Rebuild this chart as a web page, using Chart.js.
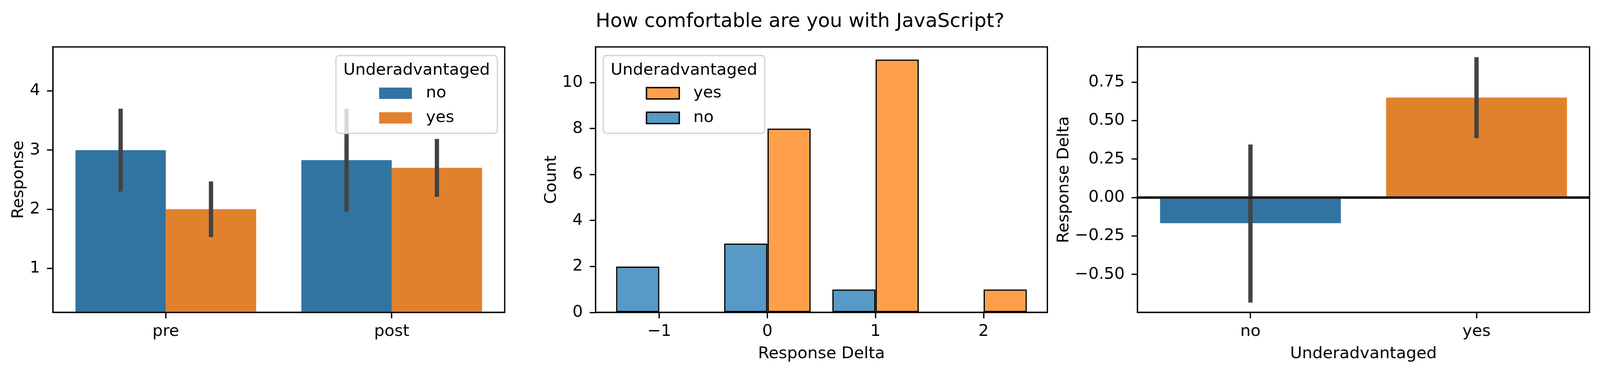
<!DOCTYPE html>
<html>
<head>
<meta charset="utf-8">
<title>How comfortable are you with JavaScript?</title>
<script src="https://cdn.jsdelivr.net/npm/chart.js@4.4.1/dist/chart.umd.min.js"></script>
<style>
  html, body { margin: 0; padding: 0; background: #fff; overflow: hidden; }
  #fig { width: 4359px; height: 959px; position: relative; }
  .panel { position: absolute; top: 0; height: 959px; }
  #suptitle {
    position: absolute; left: 0; top: 27px; width: 100%;
    text-align: center; font: 50px/50px "DejaVu Sans"; color: #000;
  }
</style>
</head>
<body>
<div id="fig">
<div id="suptitle">How comfortable are you with JavaScript?</div>
<div class="panel" id="p1"><canvas id="prePostChart"></canvas></div>
<div class="panel" id="p2"><canvas id="deltaHistChart"></canvas></div>
<div class="panel" id="p3"><canvas id="deltaMeanChart"></canvas></div>
</div>
<script>
(function () {
    'use strict';

    // ---- data ----
    var HUE = ['no', 'yes'];

    var PHASES = ['pre', 'post'];
    var RESPONSE_NO = [3.0, 2.83];
    var RESPONSE_YES = [2.0, 2.7];
    var RESPONSE_NO_CI = [[2.3, 3.7], [1.96, 3.7]];
    var RESPONSE_YES_CI = [[1.53, 2.47], [2.21, 3.19]];
    var RESPONSE_TICKS = [1, 2, 3, 4];

    var DELTA_BINS = [-1, 0, 1, 2];
    var COUNT_NO = [2, 3, 1, 0];
    var COUNT_YES = [0, 8, 11, 1];
    var COUNT_TICKS = [0, 2, 4, 6, 8, 10];

    var MEAN_DELTA = [-0.167, 0.65];
    var MEAN_DELTA_CI = [[-0.683, 0.345], [0.386, 0.912]];
    var MEAN_TICKS = [-0.5, -0.25, 0, 0.25, 0.5, 0.75];

    // ---- styling ----
    var FONT = 'DejaVu Sans';
    var FS = 41.7;
    var LW = 3.3;
    var BLUE = '#3274a1', ORANGE = '#e1812c';
    var HIST_BLUE = '#5799c7', HIST_ORANGE = '#ff9f4a';

    // the figure was laid out 4359px wide; stretch horizontal placement to the real window
    var W = window.innerWidth || 4359;
    var k = W / 4359;
    function hx(px) { return px * k; }

    document.getElementById('fig').style.width = W + 'px';
    function place(id, left, width) {
        var el = document.getElementById(id);
        el.style.left = hx(left) + 'px';
        el.style.width = hx(width) + 'px';
    }
    place('p1', 0, 1392);
    place('p2', 1400, 1458);
    place('p3', 2860, 1499);

    Chart.defaults.font.family = FONT;
    Chart.defaults.color = '#000';

    function minus(s) { return String(s).replace('-', '\u2212'); }

    function font() { return { family: FONT, size: FS, lineHeight: 1.2 }; }

    function axis(isX, size, tickValues, titleText, titlePad) {
        var s = {
            border: { display: true, color: '#000', width: LW },
            grid: {
                display: true, drawOnChartArea: false, drawTicks: true,
                tickLength: 15, tickWidth: LW, tickColor: '#000', offset: false
            },
            ticks: { color: '#000', font: font(), padding: isX ? 9 : 17.5, maxRotation: 0, autoSkip: false },
            title: {
                display: !!titleText, text: titleText || '', color: '#000', font: font(),
                padding: isX ? { top: 0, bottom: titlePad } : { top: titlePad, bottom: 0 }
            },
            afterFit: function (scale) {
                if (isX) scale.height = size; else scale.width = size;
            }
        };
        if (tickValues) {
            s.afterBuildTicks = function (scale) {
                scale.ticks = tickValues.map(function (v) { return { value: v }; });
            };
        }
        return s;
    }

    function roundRect(ctx, x, y, w, h, r) {
        ctx.beginPath();
        ctx.moveTo(x + r, y);
        ctx.arcTo(x + w, y, x + w, y + h, r);
        ctx.arcTo(x + w, y + h, x, y + h, r);
        ctx.arcTo(x, y + h, x, y, r);
        ctx.arcTo(x, y, x + w, y, r);
        ctx.closePath();
    }

    function drawLegend(chart, opt) {
        var ctx = chart.ctx, a = chart.chartArea;
        var order = opt.order;
        ctx.save();
        ctx.font = FS + 'px "' + FONT + '"';
        var titleW = ctx.measureText(opt.title).width;
        var labelW = Math.max.apply(null, order.map(function (i) { return ctx.measureText(opt.labels[i]).width; }));
        var blockW = 84 + 36 + labelW;
        var w = Math.max(titleW, blockW) + 38, h = 199;
        var x = opt.side === 'left' ? a.left + hx(21) : a.right - hx(20) - w;
        var y = a.top + 22;

        roundRect(ctx, x, y, w, h, 9);
        ctx.fillStyle = 'rgba(255,255,255,0.8)';
        ctx.fill();
        ctx.lineWidth = LW;
        ctx.strokeStyle = '#d6d6d6';
        ctx.stroke();

        ctx.fillStyle = '#000';
        ctx.textAlign = 'center';
        ctx.textBaseline = 'alphabetic';
        ctx.fillText(opt.title, x + w / 2, y + 49);

        var bx = x + (w - blockW) / 2;
        order.forEach(function (i, r) {
            var cy = y + 96.5 + r * 63;
            ctx.fillStyle = opt.colors[i];
            ctx.fillRect(bx, cy - 14.5, 84, 29);
            if (opt.edge) {
                ctx.lineWidth = opt.edge;
                ctx.strokeStyle = '#000';
                ctx.strokeRect(bx, cy - 14.5, 84, 29);
            }
            ctx.fillStyle = '#000';
            ctx.textAlign = 'left';
            ctx.textBaseline = 'middle';
            ctx.fillText(opt.labels[i], bx + 120, cy);
        });
        ctx.restore();
    }

    // error bars, zero line, axes frame and legend, matplotlib style
    var decor = {
        id: 'decor',
        afterDatasetsDraw: function (chart, args, opts) {
            var ctx = chart.ctx, y = chart.scales.y, a = chart.chartArea;
            ctx.save();
            chart.data.datasets.forEach(function (ds, i) {
                if (!ds.ci) return;
                chart.getDatasetMeta(i).data.forEach(function (bar, j) {
                    ctx.beginPath();
                    ctx.moveTo(bar.x, y.getPixelForValue(ds.ci[j][0]));
                    ctx.lineTo(bar.x, y.getPixelForValue(ds.ci[j][1]));
                    ctx.lineWidth = 11;
                    ctx.lineCap = 'butt';
                    ctx.strokeStyle = '#424242';
                    ctx.stroke();
                });
            });
            if (opts.zeroLine) {
                var zy = y.getPixelForValue(0);
                ctx.beginPath();
                ctx.moveTo(a.left, zy);
                ctx.lineTo(a.right, zy);
                ctx.lineWidth = 6.5;
                ctx.strokeStyle = '#1a1a1a';
                ctx.stroke();
            }
            ctx.restore();
        },
        afterDraw: function (chart, args, opts) {
            var ctx = chart.ctx, a = chart.chartArea;
            ctx.save();
            ctx.strokeStyle = '#000';
            ctx.lineWidth = LW;
            ctx.strokeRect(a.left, a.top, a.right - a.left, a.bottom - a.top);
            ctx.restore();
            if (opts.legend) drawLegend(chart, opts.legend);
        }
    };

    function baseOptions(padRight) {
        return {
            responsive: true,
            maintainAspectRatio: false,
            animation: false,
            layout: { padding: { top: 120, right: hx(padRight), bottom: 0, left: 0 } },
            plugins: { legend: { display: false }, tooltip: { enabled: false } }
        };
    }

    // ---- panel 1: response by phase ----
    var o1 = baseOptions(17);
    o1.scales = {
        x: Object.assign(axis(true, 160, null, '', 0), { type: 'category', offset: true }),
        y: Object.assign(axis(false, hx(144), RESPONSE_TICKS, 'Response', hx(51) - 25), { min: 0.255, max: 4.745 })
    };
    o1.plugins.decor = {
        legend: { title: 'Underadvantaged', labels: HUE, colors: [BLUE, ORANGE], order: [0, 1], side: 'right' }
    };
    new Chart(document.getElementById('prePostChart'), {
        type: 'bar',
        data: {
            labels: PHASES,
            datasets: [
                { label: HUE[0], data: RESPONSE_NO, ci: RESPONSE_NO_CI, backgroundColor: BLUE,
                  categoryPercentage: 0.8, barPercentage: 1, clip: 0 },
                { label: HUE[1], data: RESPONSE_YES, ci: RESPONSE_YES_CI, backgroundColor: ORANGE,
                  categoryPercentage: 0.8, barPercentage: 1, clip: 0 }
            ]
        },
        options: o1,
        plugins: [decor]
    });

    // ---- panel 2: histogram of response delta ----
    function points(counts) {
        return DELTA_BINS.map(function (b, i) { return { x: b, y: counts[i] }; });
    }
    var o2 = baseOptions(5);
    o2.scales = {
        x: Object.assign(axis(true, 160, DELTA_BINS, 'Response Delta', 28.7), { type: 'linear', offset: false, min: -1.59, max: 2.59 }),
        y: Object.assign(axis(false, hx(222), COUNT_TICKS, 'Count', hx(102.6) - 25), { min: 0, max: 11.55 })
    };
    o2.scales.x.ticks.callback = function (v) { return minus(v); };
    o2.plugins.decor = {
        legend: { title: 'Underadvantaged', labels: HUE, colors: [HIST_BLUE, HIST_ORANGE], order: [1, 0], side: 'left', edge: 3.5 }
    };
    new Chart(document.getElementById('deltaHistChart'), {
        type: 'bar',
        data: {
            datasets: [
                { label: HUE[0], data: points(COUNT_NO), backgroundColor: HIST_BLUE, borderColor: '#000',
                  borderWidth: 3.5, borderSkipped: false, categoryPercentage: 0.8, barPercentage: 1, clip: 0 },
                { label: HUE[1], data: points(COUNT_YES), backgroundColor: HIST_ORANGE, borderColor: '#000',
                  borderWidth: 3.5, borderSkipped: false, categoryPercentage: 0.8, barPercentage: 1, clip: 0 }
            ]
        },
        options: o2,
        plugins: [decor]
    });

    // ---- panel 3: mean delta by group ----
    var o3 = baseOptions(29);
    o3.scales = {
        x: Object.assign(axis(true, 160, null, 'Underadvantaged', 28.7), { type: 'category', offset: true }),
        y: Object.assign(axis(false, hx(239), MEAN_TICKS, 'Response Delta', Math.max(hx(39) - 25, 0)), { min: -0.747, max: 0.979 })
    };
    o3.scales.y.ticks.callback = function (v) { return minus(Number(v).toFixed(2)); };
    o3.plugins.decor = { zeroLine: true };
    new Chart(document.getElementById('deltaMeanChart'), {
        type: 'bar',
        data: {
            labels: HUE,
            datasets: [
                { label: 'Response Delta', data: MEAN_DELTA, ci: MEAN_DELTA_CI, backgroundColor: [BLUE, ORANGE],
                  categoryPercentage: 1, barPercentage: 0.8, clip: 0 }
            ]
        },
        options: o3,
        plugins: [decor]
    });
})();
</script>
</body>
</html>
